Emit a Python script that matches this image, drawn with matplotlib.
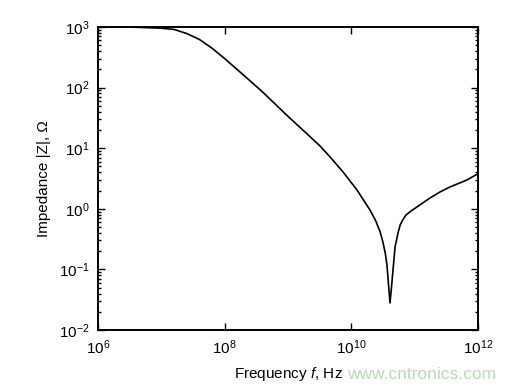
import matplotlib
matplotlib.use("Agg")
import matplotlib.pyplot as plt
from matplotlib.ticker import LogLocator, NullLocator

plt.rcParams['font.family'] = ['Liberation Sans', 'DejaVu Sans']
plt.rcParams['mathtext.fontset'] = 'custom'
plt.rcParams['mathtext.rm'] = 'Liberation Sans'
plt.rcParams['mathtext.it'] = 'Liberation Sans:italic'

# Data (frequency in Hz, impedance in Ohm)
freq_hz = [1e6, 3.2e6, 1.0e7, 1.6e7, 2.5e7, 4.0e7, 6.3e7, 1.0e8, 1.6e8,
           2.5e8, 4.0e8, 1.0e9, 2.0e9, 3.2e9, 4.6e9, 7.4e9, 1.23e10,
           1.97e10, 2.4e10, 2.84e10, 3.16e10, 3.45e10, 3.66e10, 3.9e10,
           4.08e10, 4.3e10, 4.55e10, 4.9e10, 5.46e10, 5.9e10, 6.5e10,
           7.3e10, 8.45e10, 1.21e11, 1.75e11, 2.5e11, 3.6e11, 6.7e11, 1.0e12]
impedance_ohm = [1000, 998, 955, 910, 783, 622, 448, 301, 196,
                 130, 84, 33.5, 17.2, 10.9, 7.2, 4.05, 2.04,
                 0.955, 0.65, 0.42, 0.28, 0.18, 0.115, 0.05,
                 0.028, 0.05, 0.098, 0.234, 0.40, 0.54, 0.66,
                 0.79, 0.895, 1.16, 1.51, 1.89, 2.29, 2.99, 3.8]

x_ticks = [1e6, 1e8, 1e10, 1e12]

fig = plt.figure(figsize=(5.05, 3.92), dpi=100)
ax = fig.add_axes([98/505, 62/392, 380/505, 303/392])

ax.loglog(freq_hz, impedance_ohm, color='black', lw=1.2)

ax.set_xlim(1e6, 1e12)
ax.set_ylim(1e-2, 1e3)
ax.set_xticks(x_ticks)
ax.xaxis.set_minor_locator(NullLocator())
ax.yaxis.set_major_locator(LogLocator(base=10, numticks=10))
ax.yaxis.set_minor_locator(LogLocator(base=10, subs=range(2, 10), numticks=20))

ax.tick_params(which='both', direction='in', top=True, right=True,
               labelsize=11, width=1.0, colors='black')
ax.tick_params(which='major', length=5, pad=6)
ax.tick_params(which='minor', length=2.5)
for s in ax.spines.values():
    s.set_linewidth(1.4)

ax.set_xlabel(r'Frequency $\mathit{f}$, Hz', fontsize=11, labelpad=6)
ax.set_ylabel('Impedance |Z|, Ω', fontsize=11, labelpad=6)

fig.text(0.835, 0.045, 'www.cntronics.com', color=(0.72, 0.86, 0.72),
         fontsize=12.5, ha='center', va='center')

fig.savefig('out.png', dpi=100, facecolor='white')
